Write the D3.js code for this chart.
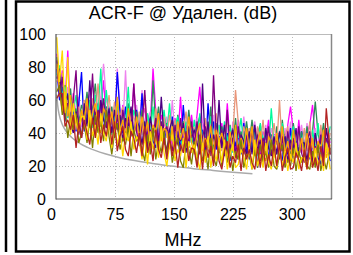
<!DOCTYPE html>
<html><head><meta charset="utf-8">
<script src="https://cdn.jsdelivr.net/npm/d3@7"></script>
<style>html,body{margin:0;padding:0;background:#fff}svg{display:block}</style>
</head><body>
<script>
const freqs = [1,4.5,8,11.5,15,18.5,22,25.5,29,32.5,
36,39.5,43,46.5,50,53.5,57,60.5,64,67.5,
71,74.5,78,81.5,85,88.5,92,95.5,99,102.5,
106,109.5,113,116.5,120,123.5,127,130.5,134,137.5,
141,144.5,148,151.5,155,158.5,162,165.5,169,172.5,
176,179.5,183,186.5,190,193.5,197,200.5,204,207.5,
211,214.5,218,221.5,225,228.5,232,235.5,239,242.5,
246,249.5,253,256.5,260,263.5,267,270.5,274,277.5,
281,284.5,288,291.5,295,298.5,302,305.5,309,312.5,
316,319.5,323,326.5,330,333.5,337,340.5,344,349];

const magenta = [88,66,78,58,90,47,64,50,43,53, 49,63,51,60,44,58,53,72,48,56, 51,40,54,37,57,46,53,41,70,44, 36,49,55,39,46,79,53,35,51,44, 48,40,33,49,37,62,34,45,38,51, 37,51,68,42,48,34,30,45,41,32, 46,32,58,34,41,29,48,36,31,43, 32,46,34,43,27,41,36,48,31,39, 39,28,42,25,45,56,41,29,48,32, 26,39,45,57,36,32,43,25,41,34];
const violet = [86,64,72,51,68,54,59,45,62,44, 45,58,64,48,55,51,62,82,60,53, 54,46,79,55,43,78,40,51,44,57, 42,66,38,47,53,39,35,50,46,37, 50,36,60,38,45,33,52,40,35,47, 35,49,37,46,30,44,39,51,34,42, 41,30,44,27,47,36,43,31,50,34, 28,41,47,31,38,34,45,27,43,36, 42,34,27,43,31,47,28,39,32,45, 32,46,28,37,43,29,25,40,36,27];
const seagreen = [86,70,57,69,54,67,46,55,46,57, 51,65,47,56,70,48,44,59,55,46, 56,42,60,44,51,39,58,46,41,53, 40,54,42,51,35,72,44,56,39,47, 45,34,48,31,51,40,47,35,54,38, 31,44,50,34,41,37,56,30,46,39, 44,36,29,45,33,49,30,41,34,47, 34,48,30,39,45,31,27,42,38,29, 44,30,48,32,39,27,46,34,29,41, 30,44,32,41,59,39,34,46,29,37];
const springgreen = [75,81,63,68,49,60,53,63,44,50, 57,46,60,43,63,52,79,47,66,50, 39,52,58,42,49,45,68,38,54,47, 51,43,36,52,40,56,37,48,41,54, 39,58,35,44,50,36,32,47,43,34, 48,34,52,36,43,31,50,38,33,45, 33,47,35,44,28,42,37,49,32,40, 40,29,43,26,46,35,42,30,55,33, 27,40,46,30,37,33,44,26,42,35, 41,33,26,42,30,46,27,38,31,44];
const salmon = [71,76,76,56,60,53,62,42,56,47, 60,52,45,61,49,70,46,57,50,63, 45,59,41,50,56,42,38,53,49,40, 53,39,63,41,48,36,55,43,38,50, 37,51,39,48,32,46,41,53,36,44, 43,32,46,29,49,38,45,33,52,36, 29,42,48,32,39,66,46,28,44,37, 43,35,28,44,32,48,29,40,33,46, 33,60,29,38,44,30,26,41,37,28, 43,29,47,31,38,26,45,33,28,40];
const indigo = [73,79,55,60,63,46,40,53,47,37, 58,44,72,46,53,41,60,48,43,55, 40,54,42,51,35,49,44,56,39,47, 44,33,47,30,50,39,46,34,62,37, 29,42,48,32,39,35,46,28,44,37, 42,34,27,70,31,47,28,39,32,60, 31,45,27,36,42,28,24,39,35,26, 41,27,45,29,36,24,43,31,26,38, 27,41,29,38,22,36,31,43,26,34, 34,23,37,21,40,29,36,24,43,27];
const purple = [84,62,74,54,58,43,60,78,39,50, 45,59,47,76,40,54,49,61,44,52, 48,37,51,34,54,43,50,38,70,41, 32,45,66,35,42,38,49,31,47,40, 44,36,29,45,33,49,30,41,34,47, 33,47,29,38,44,30,26,75,37,28, 42,28,54,30,37,25,44,32,27,39, 28,42,30,39,23,37,32,44,27,35, 35,24,38,21,41,30,37,25,44,28, 22,35,41,25,32,28,39,21,37,30];
const blue = [79,60,68,47,64,50,55,41,58,77, 41,54,60,44,51,47,58,40,56,49, 51,43,77,52,40,56,37,48,41,54, 38,64,34,43,49,35,31,46,42,33, 46,32,50,34,41,29,57,36,31,43, 31,45,33,42,26,58,35,47,30,38, 37,26,40,23,43,32,39,27,46,30, 24,37,43,19,34,30,41,23,39,32, 38,30,23,39,27,43,24,35,28,41, 28,42,24,33,39,25,21,36,32,23];
const orange = [82,66,53,65,50,63,42,51,42,54, 47,61,43,52,58,44,40,55,51,42, 53,39,62,41,48,36,55,43,38,50, 36,50,38,47,31,45,40,52,35,43, 41,30,44,27,47,36,43,31,50,34, 27,40,46,30,37,33,44,26,42,35, 40,32,25,41,29,45,26,37,30,43, 30,44,26,35,41,27,23,38,34,25, 40,26,44,28,35,23,42,30,25,37, 26,40,28,37,21,35,30,42,25,33];
const olive = [65,69,51,56,37,49,42,52,34,40, 45,34,48,31,51,40,47,35,54,38, 27,40,46,30,37,33,44,26,42,35, 38,30,23,39,27,43,24,35,28,41, 26,40,22,31,37,23,19,34,30,21, 35,21,39,23,30,18,37,25,20,32, 20,34,22,31,17,29,24,36,19,27, 27,18,30,19,33,22,29,19,36,20, 18,27,33,19,24,20,31,17,29,22, 28,20,18,29,19,33,17,25,18,31];
const gold = [98,71,90,52,86,39,58,46,41,50, 50,36,54,38,45,33,52,40,35,47, 31,45,33,42,26,40,35,47,30,38, 35,24,38,21,41,30,37,25,44,28, 20,33,39,23,30,26,37,19,35,28, 33,25,18,34,22,38,19,30,23,36, 22,36,18,27,33,19,21,30,26,18, 32,18,36,20,27,19,34,22,18,29, 19,32,20,29,17,27,22,34,18,25, 25,18,28,19,31,20,27,17,34,18];
const firebrick = [61,64,64,44,48,42,51,31,46,37, 48,40,33,49,37,53,34,45,38,51, 33,47,29,38,44,30,26,41,37,28, 40,26,44,28,35,23,42,30,25,37, 24,38,26,35,19,33,28,40,23,31, 30,19,33,18,36,25,32,20,39,23, 18,29,35,19,26,22,33,17,31,24, 30,22,18,31,19,35,17,27,20,33, 20,34,17,25,31,18,19,28,24,17, 30,18,34,19,25,17,32,20,55,27];

const limitFreqs = [1,2,4,8,10,16,20,31.25,40,62.5,80,100,125,150,175,200,225,250];
const limitVals = [63.3,57.3,51.3,45.2,43.3,39.2,37.3,33.4,31.3,27.4,25.2,23.3,21.4,19.8,18.4,17.3,16.2,15.3];

const xTicks = [0,75,150,225,300];
const yTicks = [0,20,40,60,80,100];
const titleText = "ACR-F @ Удален. (dB)";
const xLabel = "MHz";

const series = [
  {c:"#FF00FF", v:magenta},
  {c:"#EE82EE", v:violet},
  {c:"#0000FF", v:blue},
  {c:"#2E8B57", v:seagreen},
  {c:"#00FA9A", v:springgreen},
  {c:"#E9967A", v:salmon},
  {c:"#4B0082", v:indigo},
  {c:"#800080", v:purple},
  {c:"#FFA500", v:orange},
  {c:"#808000", v:olive},
  {c:"#FFD700", v:gold},
  {c:"#B22222", v:firebrick}
];

const W = 353, H = 255;
const svg = d3.select("body").append("svg").attr("width", W).attr("height", H)
  .style("font-family", "'Liberation Sans', Arial, sans-serif");
svg.append("rect").attr("width", W).attr("height", H).attr("fill", "#fff");

svg.append("line").attr("x1", 6).attr("x2", 6).attr("y1", 0).attr("y2", 252)
  .attr("stroke", "#000").attr("stroke-width", 2.5);
svg.append("rect").attr("x", 16).attr("y", 1.5).attr("width", 333.5).attr("height", 250)
  .attr("fill", "none").attr("stroke", "#000").attr("stroke-width", 2.5);

const x = d3.scaleLinear().domain([0, 350]).range([56, 331]);
const y = d3.scaleLinear().domain([0, 100]).range([199, 34]);

const grid = svg.append("g").attr("stroke", "#bbb").attr("stroke-dasharray", "1,2").attr("stroke-width", 1);
grid.selectAll("line.gx").data(xTicks.filter(d => d > 0)).join("line")
  .attr("x1", d => Math.round(x(d)) + 0.5).attr("x2", d => Math.round(x(d)) + 0.5)
  .attr("y1", y(100)).attr("y2", y(0));
grid.selectAll("line.gy").data(yTicks.filter(d => d > 0 && d < 100)).join("line")
  .attr("y1", d => Math.round(y(d)) + 0.5).attr("y2", d => Math.round(y(d)) + 0.5)
  .attr("x1", x(0)).attr("x2", x(350));

svg.append("clipPath").attr("id", "clip").append("rect")
  .attr("x", x(0)).attr("y", y(100)).attr("width", x(350) - x(0)).attr("height", y(0) - y(100));

const plot = svg.append("g").attr("clip-path", "url(#clip)");

const limitLine = d3.line().x((d, i) => x(limitFreqs[i])).y(d => y(d)).curve(d3.curveMonotoneX);
plot.append("path").datum(limitVals).attr("d", limitLine)
  .attr("fill", "none").attr("stroke", "#aaa").attr("stroke-width", 1.5);

const line = d3.line().x((d, i) => x(freqs[i])).y(d => y(d));
plot.selectAll("path.s").data(series).join("path").attr("class", "s")
  .attr("d", d => line(d.v)).attr("fill", "none").attr("stroke", d => d.c)
  .attr("stroke-width", 1.3).attr("stroke-linejoin", "bevel");

svg.append("line").attr("x1", x(0)).attr("x2", x(350)).attr("y1", y(100) + 0.5).attr("y2", y(100) + 0.5).attr("stroke", "#bbb");
svg.append("line").attr("x1", x(350) + 0.5).attr("x2", x(350) + 0.5).attr("y1", y(100)).attr("y2", y(0)).attr("stroke", "#888").attr("stroke-width", 1.5);
svg.append("line").attr("x1", x(0)).attr("x2", x(0)).attr("y1", y(100)).attr("y2", y(0) + 0.5).attr("stroke", "#555").attr("stroke-width", 1.2);
svg.append("line").attr("x1", x(0)).attr("x2", x(350) + 1).attr("y1", y(0)).attr("y2", y(0)).attr("stroke", "#555").attr("stroke-width", 1.2);

const yAxis = svg.append("g").attr("transform", `translate(${x(0)},0)`)
  .call(d3.axisLeft(y).tickValues(yTicks).tickSize(0).tickPadding(10));
yAxis.select(".domain").remove();
yAxis.selectAll("text").attr("font-size", 16).attr("fill", "#000").style("font-family", "'Liberation Sans', Arial, sans-serif");

const xAxis = svg.append("g").attr("transform", `translate(0,${y(0)})`)
  .call(d3.axisBottom(x).tickValues(xTicks).tickSize(0).tickPadding(10));
xAxis.select(".domain").remove();
xAxis.selectAll("text").attr("font-size", 16).attr("fill", "#000").style("font-family", "'Liberation Sans', Arial, sans-serif")
  .attr("dx", d => d === 0 ? -5 : 0);

svg.append("text").attr("x", 183).attr("y", 18.5).attr("text-anchor", "middle")
  .attr("font-size", 18).attr("fill", "#000").text(titleText);
svg.append("text").attr("x", 183).attr("y", 246).attr("text-anchor", "middle")
  .attr("font-size", 18).attr("fill", "#000").text(xLabel);
</script>
</body></html>
